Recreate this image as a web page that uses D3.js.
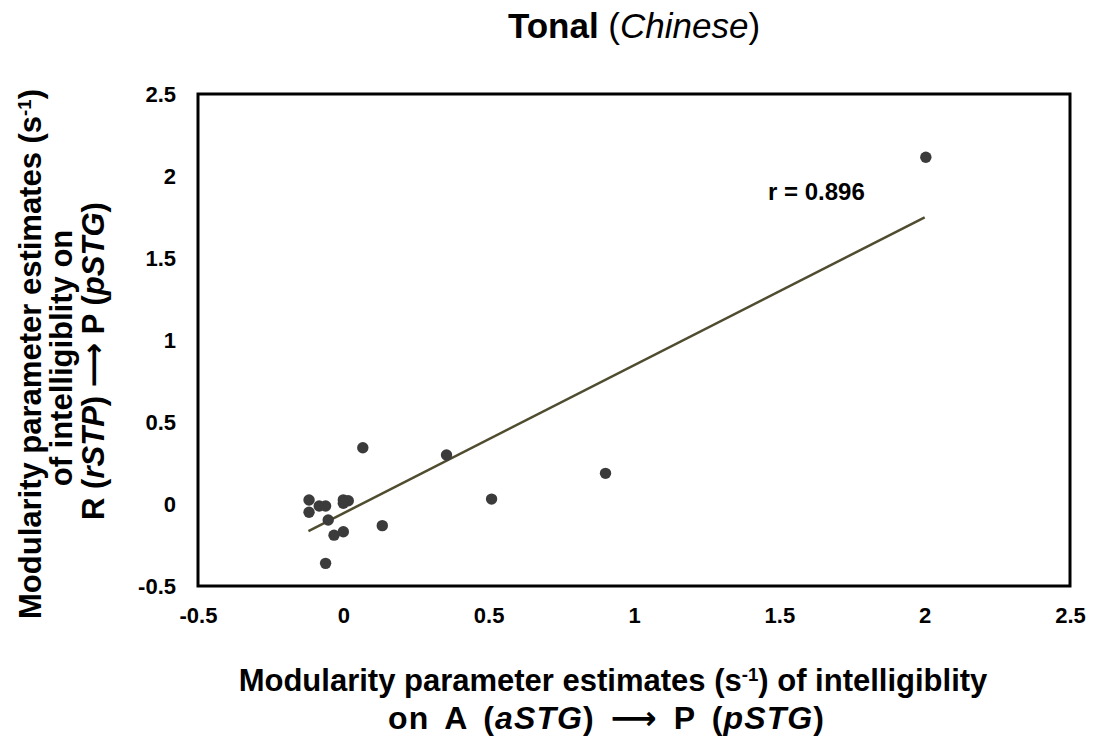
<!DOCTYPE html>
<html><head><meta charset="utf-8">
<script src="https://cdn.jsdelivr.net/npm/d3@7"></script>
<style>
html,body{margin:0;padding:0;background:#fff;}
svg text{font-family:"Liberation Sans",Arial,Helvetica,sans-serif;fill:#000;}
</style></head>
<body><svg id="c" width="1094" height="744"></svg>
<script>
// ---- data ----
const xValues = [-0.118,-0.118,-0.083,-0.061,0.0,0.017,0.0,-0.052,-0.032,0.0,0.134,-0.061,0.067,0.355,0.510,0.902,2.004];
const yValues = [0.024,-0.05,-0.012,-0.012,0.025,0.02,0.005,-0.098,-0.19,-0.169,-0.132,-0.362,0.343,0.299,0.030,0.187,2.114];
const fitX = [-0.12, 2.0];
const fitY = [-0.165, 1.748];
const tickValues = [-0.5,0,0.5,1,1.5,2,2.5];
const tickLabels = ["-0.5","0","0.5","1","1.5","2","2.5"];
const rLabel = "r = 0.896";

const svg = d3.select("#c");
const x = d3.scaleLinear().domain([-0.5,2.5]).range([198,1070]);
const y = d3.scaleLinear().domain([-0.5,2.5]).range([586,94]);

// box
svg.append("rect").attr("x",x(-0.5)).attr("y",y(2.5))
  .attr("width",x(2.5)-x(-0.5)).attr("height",y(-0.5)-y(2.5))
  .attr("fill","none").attr("stroke","#000").attr("stroke-width",3);

// axes (labels only)
const xa = svg.append("g").attr("transform",`translate(0,${y(-0.5)})`)
  .call(d3.axisBottom(x).tickValues(tickValues).tickSize(0).tickPadding(21)
    .tickFormat((d,i)=>tickLabels[i]));
const ya = svg.append("g").attr("transform",`translate(${x(-0.5)},0)`)
  .call(d3.axisLeft(y).tickValues(tickValues).tickSize(0).tickPadding(22)
    .tickFormat((d,i)=>tickLabels[i]));
[xa,ya].forEach(g=>{
  g.select(".domain").remove();
  g.selectAll("text").attr("font-size",22).attr("font-weight","bold")
   .attr("font-family","'Liberation Sans',Arial,sans-serif").attr("fill","#000");
});

// fit line
svg.append("line").attr("x1",x(fitX[0])).attr("y1",y(fitY[0]))
  .attr("x2",x(fitX[1])).attr("y2",y(fitY[1]))
  .attr("stroke","#4f4c30").attr("stroke-width",2.5);

// points
svg.append("g").selectAll("circle").data(xValues).join("circle")
  .attr("cx",(d)=>x(d)).attr("cy",(d,i)=>y(yValues[i])).attr("r",5.7)
  .attr("fill","#3b3b3b");

// r label
svg.append("text").attr("x",768).attr("y",200).attr("font-size",24)
  .attr("font-weight","bold").text(rLabel);

// title
const t = svg.append("text").attr("x",634).attr("y",38).attr("text-anchor","middle").attr("font-size",35);
t.append("tspan").attr("font-weight","bold").text("Tonal ");
t.append("tspan").text("(");
t.append("tspan").attr("font-style","italic").text("Chinese");
t.append("tspan").text(")");

// labels
function addParts(txt, parts){
  parts.forEach(p=>{
    const s = txt.append("tspan").text(p.t);
    if(p.i) s.attr("font-style","italic");
    if(p.sup) s.attr("font-size","60%").attr("baseline-shift","super");
    if(p.arrow) s.attr("font-family","'DejaVu Sans',sans-serif").attr("font-weight","bold");
  });
}
const xl1 = svg.append("text").attr("x",613).attr("y",691).attr("text-anchor","middle")
  .attr("font-size",31).attr("font-weight","bold");
addParts(xl1,[{t:"Modularity parameter estimates (s"},{t:"-1",sup:true},{t:") of intelligiblity"}]);
const xl2 = svg.append("text").attr("x",606).attr("y",729).attr("text-anchor","middle")
  .attr("font-size",32).attr("font-weight","bold").attr("word-spacing",6)
  .attr("textLength",436).attr("lengthAdjust","spacing");
addParts(xl2,[{t:"on A ("},{t:"aSTG",i:true},{t:") "},{t:"\u27F6",arrow:true},{t:" P ("},{t:"pSTG",i:true},{t:")"}]);

const yl = [
  {cx:41, cy:354, parts:[{t:"Modularity parameter estimates (s"},{t:"-1",sup:true},{t:")"}]},
  {cx:72, cy:358, parts:[{t:"of intelligiblity on"}]},
  {cx:104, cy:361, parts:[{t:"R ("},{t:"rSTP",i:true},{t:") "},{t:"\u27F6",arrow:true},{t:" P ("},{t:"pSTG",i:true},{t:")"}]}
];
yl.forEach(l=>{
  const tt = svg.append("text").attr("transform",`translate(${l.cx},${l.cy}) rotate(-90)`)
    .attr("text-anchor","middle").attr("font-size",31).attr("font-weight","bold");
  addParts(tt,l.parts);
});
</script></body></html>
